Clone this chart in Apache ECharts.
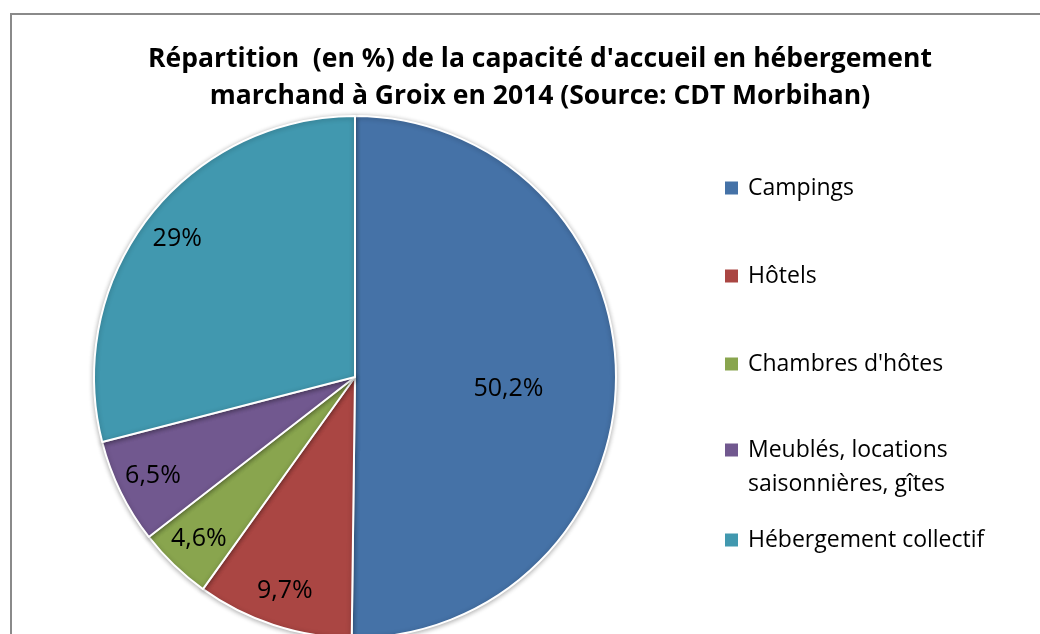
<!DOCTYPE html>
<html>
<head>
<meta charset="utf-8">
<style>
  html, body { margin: 0; padding: 0; background: #fff; }
  #chart { width: 1040px; height: 634px; }
</style>
<script src="https://cdn.jsdelivr.net/npm/echarts@6/dist/echarts.min.js"></script>
</head>
<body>
<div id="chart"></div>
<script>
  // données
  var categories = ['Campings', 'Hôtels', "Chambres d'hôtes", 'Meublés, locations saisonnières, gîtes', 'Hébergement collectif']
  var shares = [50.2, 9.7, 4.6, 6.5, 29]
  var colors = ['#4572A7', '#AA4643', '#89A54E', '#71588F', '#4198AF']

  // texte de légende sur deux lignes (ligne vide en tête pour aligner le carré sur la 1re ligne)
  var legendLabels = {
    'Meublés, locations saisonnières, gîtes': '\nMeublés, locations\nsaisonnières, gîtes'
  }
  // centre vertical de chaque carré de légende
  var legendY = [188, 276, 364, 450, 540]

  var font = '"Open Sans", "Noto Sans", sans-serif'
  var LH = 34

  function fmt(v) {
    return String(v).replace('.', ',') + '%'
  }

  var pieData = categories.map(function (name, i) {
    return { name: name, value: shares[i], itemStyle: { color: colors[i] } }
  })

  var legends = categories.map(function (c, i) {
    var lines = (legendLabels[c] || c).split('\n').length
    return {
      orient: 'vertical',
      left: 723,
      top: legendY[i] - (lines * LH) / 2,
      padding: 0,
      itemWidth: 15,
      itemHeight: 15,
      icon: 'rect',
      selectedMode: false,
      data: [c],
      formatter: function (name) { return legendLabels[name] || name },
      textStyle: {
        fontFamily: font,
        fontSize: 23,
        lineHeight: LH,
        color: '#000',
        padding: [0, 0, 0, 4]
      }
    }
  })

  var chart = echarts.init(document.getElementById('chart'))
  chart.setOption({
    backgroundColor: '#fff',
    animation: false,
    title: {
      text: "Répartition  (en %) de la capacité d'accueil en hébergement\nmarchand à Groix en 2014 (Source: CDT Morbihan)",
      left: 535,
      top: 36,
      textAlign: 'center',
      textStyle: {
        fontFamily: font,
        fontSize: 26.5,
        fontWeight: 'bold',
        color: '#000',
        lineHeight: 37
      }
    },
    graphic: [{
      type: 'rect',
      shape: { x: 11, y: 14, width: 1100, height: 700 },
      style: { fill: 'none', stroke: '#8a8a8a', lineWidth: 2 },
      z: 0
    }],
    legend: legends,
    series: [{
      name: 'capacité',
      type: 'pie',
      center: [355, 377],
      radius: [0, 261],
      startAngle: 90,
      clockwise: true,
      silent: true,
      itemStyle: {
        borderColor: '#fff',
        borderWidth: 2,
        shadowBlur: 5,
        shadowColor: 'rgba(0,0,0,0.3)',
        shadowOffsetY: 1
      },
      label: {
        show: true,
        position: 'inside',
        formatter: function (p) { return p.dataIndex === 0 ? fmt(p.value) : '' },
        offset: [20, 11],
        fontFamily: font,
        fontSize: 25,
        color: '#000'
      },
      labelLine: { show: false },
      data: pieData
    }, {
      // anneau invisible pour placer les étiquettes près du bord
      name: 'étiquettes',
      type: 'pie',
      center: [355, 377],
      radius: [183, 261],
      startAngle: 90,
      clockwise: true,
      silent: true,
      itemStyle: { color: 'transparent', borderWidth: 0 },
      label: {
        show: true,
        position: 'inside',
        formatter: function (p) { return p.dataIndex === 0 ? '' : fmt(p.value) },
        fontFamily: font,
        fontSize: 25,
        color: '#000'
      },
      labelLine: { show: false },
      data: categories.map(function (name, i) { return { name: name, value: shares[i] } })
    }]
  })
</script>
</body>
</html>
